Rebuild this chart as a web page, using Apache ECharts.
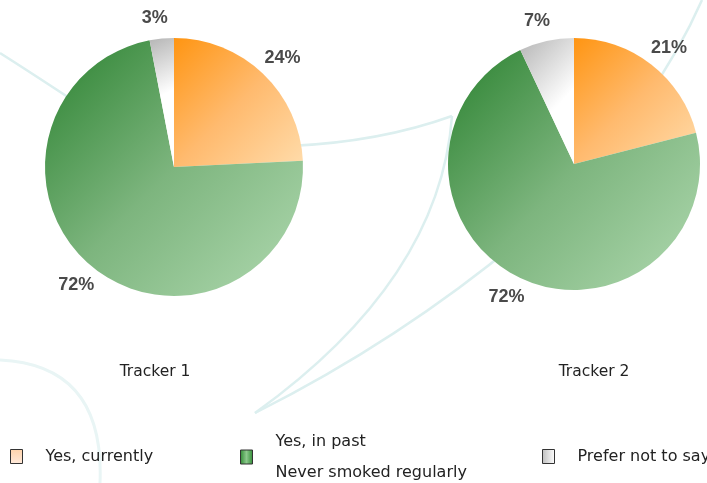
<!DOCTYPE html>
<html>
<head>
<meta charset="utf-8">
<script src="https://cdn.jsdelivr.net/npm/echarts@6/dist/echarts.min.js"></script>
<style>
html,body{margin:0;padding:0;background:#fff;}
#chart{width:707px;height:483px;}
</style>
</head>
<body>
<div id="chart"></div>
<script>
// ---- data ----
const categories = ['Yes, currently', 'Never smoked regularly', 'Prefer not to say'];
const legendLabels = ['Yes, currently', 'Yes, in past\nNever smoked regularly', 'Prefer not to say'];
const trackers = ['Tracker 1', 'Tracker 2'];
const tracker1Values = [24, 72, 3];
const tracker2Values = [21, 72, 7];

// ---- styles ----
function grad(x2, y2, stops) {
  return new echarts.graphic.LinearGradient(0, 0, x2, y2,
    stops.map((c, i) => ({offset: i / (stops.length - 1), color: c})));
}
const sliceColors = [
  () => grad(1, 1, ['#ff9512', '#ffba6e', '#ffdcab']),
  () => grad(1, 1, ['#2b8230', '#7db57e', '#b0d9b0']),
  () => grad(1, 0.4, ['#b5b5b5', '#ffffff'])
];
const legendColors = [
  () => grad(0, 1, ['#ffd3ab', '#ffeadb']),
  () => grad(1, 0, ['#2f8a33', '#8cc98c', '#2f8a33']),
  () => grad(1, 0, ['#bdbdbd', '#ffffff'])
];

function pieData(values) {
  return categories.map((c, i) => ({
    name: c, value: values[i],
    itemStyle: {color: sliceColors[i]()}
  }));
}

const labelStyle = {
  show: true,
  position: 'outside',
  formatter: '{c}%',
  overflow: 'none',
  fontFamily: '"Liberation Sans", Arial, sans-serif',
  fontWeight: 'bold',
  fontSize: 18,
  color: '#4a4a4a'
};

const legendPos = [10, 240, 542];
const legendTop = [441, 426, 441];
const legends = categories.map((c, i) => ({
  data: [{name: c, itemStyle: {color: legendColors[i](), borderColor: '#333', borderWidth: 1}}],
  left: legendPos[i],
  top: legendTop[i],
  padding: 0,
  icon: 'rect',
  itemWidth: 12,
  itemHeight: 14,
  itemGap: 0,
  selectedMode: false,
  formatter: () => legendLabels[i],
  textStyle: {
    fontFamily: '"DejaVu Sans", Verdana, sans-serif',
    fontSize: 16,
    color: '#222',
    lineHeight: 31,
    padding: [0, 0, 0, 18]
  }
}));

const decoStyle = {stroke: '#dcefef', lineWidth: 2.5, fill: null};
const option = {
  backgroundColor: '#ffffff',
  animation: false,
  title: trackers.map((t, i) => ({
    text: t,
    left: i === 0 ? 155 : 594,
    textAlign: 'center',
    top: 364,
    padding: 0,
    textStyle: {
      fontFamily: '"DejaVu Sans", Verdana, sans-serif',
      fontSize: 15.5, fontWeight: 'normal', color: '#222'
    }
  })),
  legend: legends,
  graphic: [
    {type: 'bezierCurve', z: -10, shape: {x1: 0, y1: 53, x2: 80, y2: 105, cpx1: 30, cpy1: 72}, style: decoStyle, silent: true},
    {type: 'bezierCurve', z: -10, shape: {x1: 290, y1: 146, x2: 452, y2: 116, cpx1: 380, cpy1: 142}, style: decoStyle, silent: true},
    {type: 'bezierCurve', z: -10, shape: {x1: 452, y1: 116, x2: 255, y2: 413, cpx1: 440, cpy1: 280}, style: decoStyle, silent: true},
    {type: 'bezierCurve', z: -10, shape: {x1: 255, y1: 413, x2: 520, y2: 240, cpx1: 400, cpy1: 340}, style: decoStyle, silent: true},
    {type: 'bezierCurve', z: -10, shape: {x1: 702, y1: 0, x2: 645, y2: 100, cpx1: 680, cpy1: 50}, style: decoStyle, silent: true},
    {type: 'bezierCurve', z: -10, shape: {x1: 0, y1: 360, x2: 100, y2: 483, cpx1: 105, cpy1: 365}, style: {stroke: '#e9f5f5', lineWidth: 3, fill: null}, silent: true}
  ],
  series: [tracker1Values, tracker2Values].map((vals, i) => ({
    type: 'pie',
    name: trackers[i],
    center: i === 0 ? [174, 167] : [574, 164],
    radius: i === 0 ? 129 : 126,
    startAngle: 90,
    clockwise: true,
    silent: true,
    avoidLabelOverlap: false,
    label: labelStyle,
    labelLine: {show: false, length: 21, length2: 0},
    labelLayout: () => ({align: 'center', verticalAlign: 'middle'}),
    data: pieData(vals)
  }))
};

const chart = echarts.init(document.getElementById('chart'), null, {renderer: 'canvas'});
chart.setOption(option);
</script>
</body>
</html>
